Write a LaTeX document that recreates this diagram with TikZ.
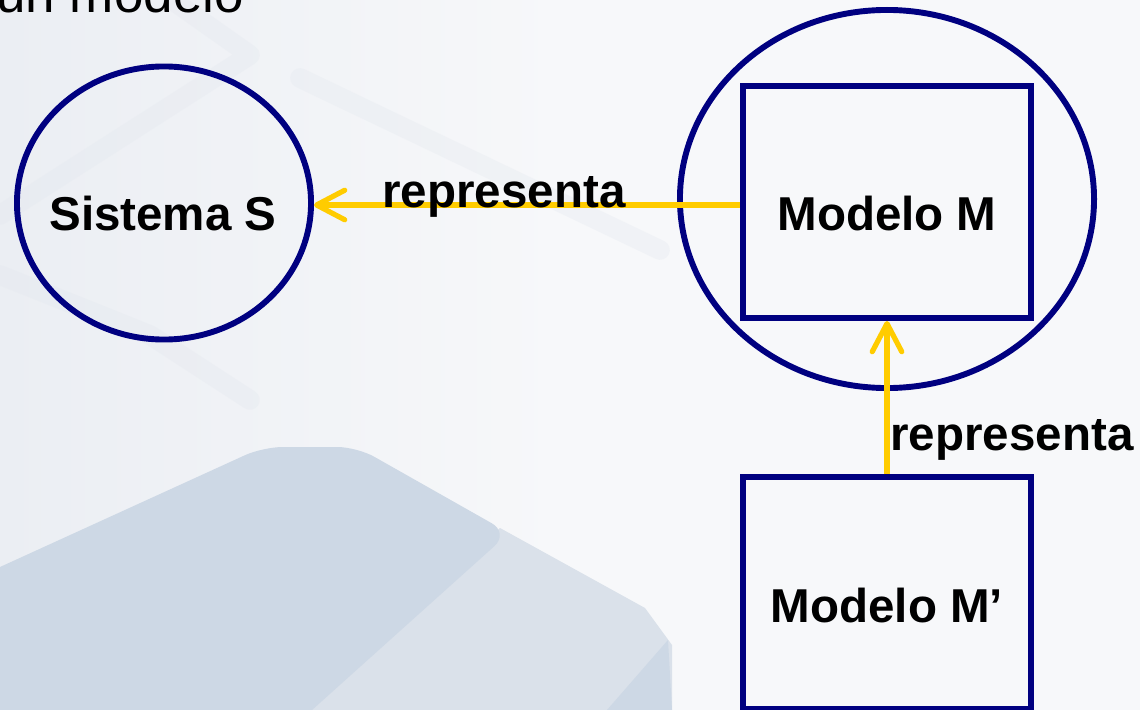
\documentclass[tikz,border=0pt]{standalone}
\usepackage{fontspec}
\setmainfont{Liberation Sans}
\usetikzlibrary{arrows.meta,shapes.geometric}
\definecolor{navy}{HTML}{000080}
\definecolor{gold}{HTML}{FFCC00}
\definecolor{bgA}{HTML}{EBEEF3}
\definecolor{bgB}{HTML}{F7F8FA}
\definecolor{dk}{HTML}{CDD8E5}
\definecolor{lt}{HTML}{DAE1EA}
\definecolor{streak}{HTML}{E2E7EE}
\begin{document}
\begin{tikzpicture}[x=0.025cm,y=-0.025cm,
  shapeline/.style={draw=navy,line width=4.2pt},
  ellnode/.style={shapeline,ellipse,inner sep=0pt},
  boxnode/.style={shapeline,rectangle,inner sep=0pt,minimum width=7.2cm,minimum height=5.8cm},
  lbl/.style={font=\bfseries\fontsize{33.8}{40}\selectfont,inner sep=0pt,anchor=base},
  arr/.style={draw=gold,line width=3.7pt,-{Straight Barb[length=20pt,width=21pt,round]}},
  streakline/.style={draw=streak,line width=14pt,opacity=.3,line cap=round,line join=round}
]
\useasboundingbox (0,0) rectangle (1140,710);
% background
\shade[left color=bgA,right color=bgB] (0,0) rectangle (561,710);
\fill[bgB] (560,0) rectangle (1140,710);
\draw[streakline] (172,0) -- (250,55) -- (0,215);
\draw[streakline] (300,78) -- (660,250);
\draw[streakline] (0,275) -- (150,335) -- (250,400);
\fill[lt] (500,528) -- (645,608) -- (672,645) -- (672,710) -- (300,710) -- cycle;
\fill[dk] (0,567) [rounded corners=14pt] -- (263,447) -- (357,447) -- (509,533) [sharp corners] -- (312,710) -- (0,710) -- cycle;
\fill[dk] (607,710) -- (668,640) -- (672,710) -- cycle;
% title fragment
\node[anchor=base west,font=\fontsize{37.7}{44}\selectfont,inner sep=0pt] (title) at (-4,12) {un modelo};
% shapes
\node[ellnode,minimum width=7.35cm,minimum height=6.825cm] (S) at (164,203) {};
\node[ellnode,minimum width=10.35cm,minimum height=9.45cm] (E) at (887,199) {};
\node[boxnode] (M) at (887,202) {};
\node[boxnode] (Mp) at (887,593) {};
% connectors
\coordinate (hy) at (0,205);
\draw[arr] (M.west |- hy) -- (S.east |- hy);
\draw[arr] (Mp.north) -- (M.south);
% texts
\node[lbl] (Stxt) at (163,230) {Sistema S};
\node[lbl] (Mtxt) at (887,230) {Modelo M};
\node[lbl] (Mptxt) at (887,622) {Modelo M’};
\node[lbl] (l1) at (504,207) {representa};
\node[lbl] (l2) at (1012,450) {representa};
\end{tikzpicture}
\end{document}
